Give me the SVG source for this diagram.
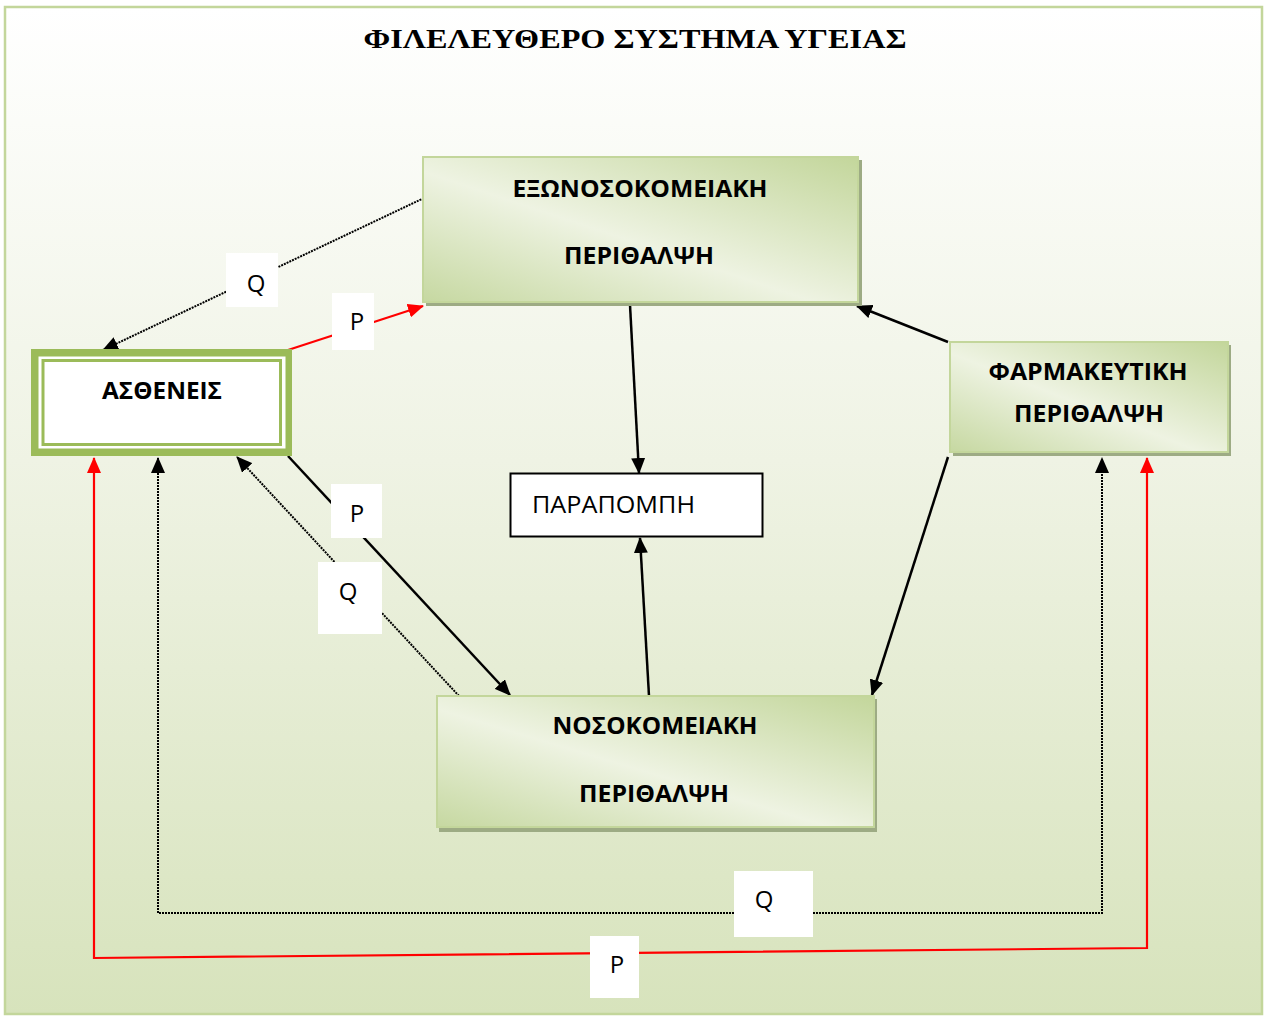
<svg xmlns="http://www.w3.org/2000/svg" width="1264" height="1017" viewBox="0 0 1264 1017">
<style>
.node-text{font-family:"Open Sans","Noto Sans","DejaVu Sans",sans-serif;font-weight:bold;font-size:24px;fill:#000;text-anchor:middle}
.lbl{font-family:"Open Sans","Noto Sans","DejaVu Sans",sans-serif;font-size:24px;fill:#000;text-anchor:middle}
.lblbox{fill:#fff}
.solid{stroke:#000;stroke-width:2.5;fill:none}
.dotted{stroke:#000;stroke-width:2;fill:none;stroke-dasharray:2 1}
.red{stroke:#f00;stroke-width:2.2;fill:none}
.shadow{fill:#9dab84}
.box{fill:url(#boxg);stroke:#c3d69b;stroke-width:2}
</style>
<defs>
<linearGradient id="bg" x1="0" y1="0" x2="0" y2="1">
<stop offset="0" stop-color="#ffffff"/>
<stop offset="0.45" stop-color="#eff3e4"/>
<stop offset="1" stop-color="#d7e3bc"/>
</linearGradient>
<linearGradient id="boxg" x1="0" y1="1" x2="1" y2="0">
<stop offset="0" stop-color="#c6d8a1"/>
<stop offset="0.45" stop-color="#eef3e2"/>
<stop offset="1" stop-color="#c3d69b"/>
</linearGradient>
<marker id="ah" markerUnits="userSpaceOnUse" markerWidth="16" markerHeight="14" refX="15" refY="7" orient="auto-start-reverse" viewBox="0 0 16 14">
<path d="M0,0 L16,7 L0,14 z" fill="#000"/>
</marker>
<marker id="ahr" markerUnits="userSpaceOnUse" markerWidth="16" markerHeight="14" refX="15" refY="7" orient="auto-start-reverse" viewBox="0 0 16 14">
<path d="M0,0 L16,7 L0,14 z" fill="#f00"/>
</marker>
</defs>
<rect x="5" y="7" width="1257" height="1007" fill="url(#bg)" stroke="#c3d69b" stroke-width="2.5"/>
<text x="635" y="48" font-family="Liberation Serif,serif" font-weight="bold" font-size="28" text-anchor="middle" textLength="543" lengthAdjust="spacingAndGlyphs">ΦΙΛΕΛΕΥΘΕΡΟ ΣΥΣΤΗΜΑ ΥΓΕΙΑΣ</text>

<g id="connectors">
<line class="dotted" x1="424" y1="198" x2="103" y2="350" marker-end="url(#ah)"/>
<line class="red" x1="288" y1="350" x2="423" y2="306" marker-end="url(#ahr)"/>
<line class="solid" x1="630" y1="305" x2="639" y2="473" marker-end="url(#ah)"/>
<line class="solid" x1="649" y1="696" x2="640" y2="538" marker-end="url(#ah)"/>
<line class="solid" x1="948" y1="342" x2="857" y2="306" marker-end="url(#ah)"/>
<line class="solid" x1="948" y1="457" x2="872" y2="695" marker-end="url(#ah)"/>
<line class="solid" x1="288" y1="456" x2="510" y2="695" marker-end="url(#ah)"/>
<line class="dotted" x1="459" y1="696" x2="237" y2="457" marker-end="url(#ah)"/>
<path class="dotted" d="M158,458 L158,913 L1102,913 L1102,458" marker-start="url(#ah)" marker-end="url(#ah)"/>
<path class="red" d="M94,458 L94,958 L1147,948 L1147,458" marker-start="url(#ahr)" marker-end="url(#ahr)"/>
<rect class="lblbox" x="226" y="253" width="52" height="54"/>
<text class="lbl" x="256" y="292">Q</text>
<rect class="lblbox" x="332" y="293" width="42" height="57"/>
<text class="lbl" x="357" y="330">P</text>
<rect class="lblbox" x="331" y="484" width="51" height="54"/>
<text class="lbl" x="357" y="522">P</text>
<rect class="lblbox" x="318" y="562" width="64" height="72"/>
<text class="lbl" x="348" y="600">Q</text>
<rect class="lblbox" x="734" y="871" width="79" height="66"/>
<text class="lbl" x="764" y="908">Q</text>
<rect class="lblbox" x="590" y="936" width="49" height="62"/>
<text class="lbl" x="617" y="973">P</text>
</g>

<g id="node-exo">
<rect class="shadow" x="426" y="160" width="436" height="146"/>
<rect class="box" x="423" y="157" width="435" height="145"/>
<text class="node-text" x="640" y="197" textLength="255" lengthAdjust="spacingAndGlyphs">ΕΞΩΝΟΣΟΚΟΜΕΙΑΚΗ</text>
<text class="node-text" x="639" y="264" textLength="150" lengthAdjust="spacingAndGlyphs">ΠΕΡΙΘΑΛΨΗ</text>
</g>

<g id="node-astheneis">
<rect x="31" y="349" width="261" height="107" fill="#9bbb59"/>
<rect x="38.5" y="356.5" width="247" height="92" fill="#fff"/>
<rect x="43" y="360.5" width="237.5" height="84" fill="#fff" stroke="#9bbb59" stroke-width="3"/>
<text class="node-text" x="162" y="399" textLength="120" lengthAdjust="spacingAndGlyphs">ΑΣΘΕΝΕΙΣ</text>
</g>

<g id="node-farm">
<rect class="shadow" x="953" y="345" width="278" height="111"/>
<rect class="box" x="950" y="342" width="278" height="110"/>
<text class="node-text" x="1088" y="380" textLength="199" lengthAdjust="spacingAndGlyphs">ΦΑΡΜΑΚΕΥΤΙΚΗ</text>
<text class="node-text" x="1089" y="422" textLength="150" lengthAdjust="spacingAndGlyphs">ΠΕΡΙΘΑΛΨΗ</text>
</g>

<g id="node-nosok">
<rect class="shadow" x="439" y="699" width="438" height="133"/>
<rect class="box" x="437" y="696" width="437" height="131"/>
<text class="node-text" x="655" y="734" textLength="205" lengthAdjust="spacingAndGlyphs">ΝΟΣΟΚΟΜΕΙΑΚΗ</text>
<text class="node-text" x="654" y="802" textLength="150" lengthAdjust="spacingAndGlyphs">ΠΕΡΙΘΑΛΨΗ</text>
</g>

<g id="node-parapompi">
<rect x="510.5" y="473.5" width="252" height="63" fill="#fff" stroke="#000" stroke-width="2"/>
<text x="532" y="513" font-family="Open Sans,Noto Sans,sans-serif" font-size="23" textLength="163" lengthAdjust="spacingAndGlyphs">ΠΑΡΑΠΟΜΠΗ</text>
</g>
</svg>
